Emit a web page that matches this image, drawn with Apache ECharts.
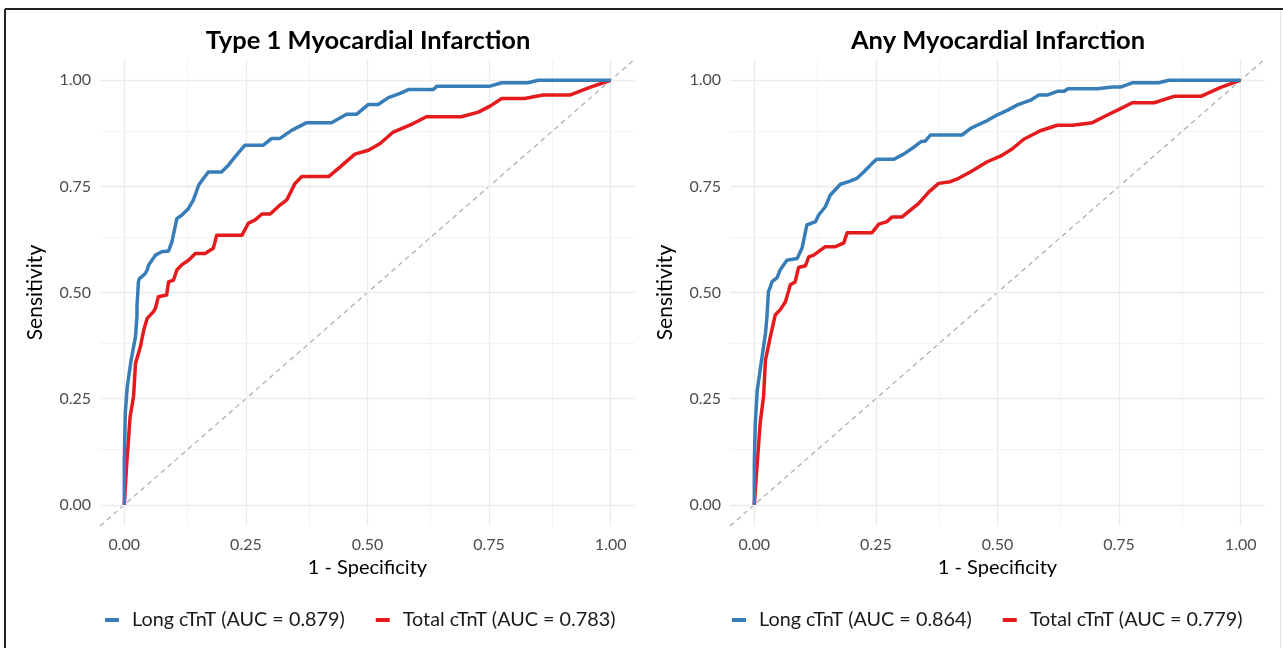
<!DOCTYPE html>
<html>
<head>
<meta charset="utf-8">
<script src="https://cdn.jsdelivr.net/npm/echarts@6/dist/echarts.min.js"></script>
<style>
html,body{margin:0;padding:0;background:#fff;}
#chart{width:1283px;height:648px;}
</style>
</head>
<body>
<div id="chart"></div>
<script>
// ---- Data ----
const panelTitles = ['Type 1 Myocardial Infarction', 'Any Myocardial Infarction'];
const seriesNames = [
  ['Long cTnT (AUC = 0.879)', 'Total cTnT (AUC = 0.783)'],
  ['Long cTnT (AUC = 0.864)', 'Total cTnT (AUC = 0.779)']
];
const xTitle = '1 - Specificity';
const yTitle = 'Sensitivity';
const tickValues = [0, 0.25, 0.5, 0.75, 1];
const minorValues = [0.125, 0.375, 0.625, 0.875];
const diagonal = [[-0.05, -0.05], [1.05, 1.05]];

// Type 1 MI – Long cTnT (x = 1 - specificity, y = sensitivity)
const t1LongX = [0,0,0.002,0.006,0.014,0.023,0.026,0.026,0.029,0.031,0.036,0.043,0.047,0.05,0.053,0.064,0.067,0.077,0.091,0.098,0.108,0.118,0.132,0.142,0.153,0.163,0.173,0.2,0.214,0.228,0.248,0.286,0.303,0.32,0.344,0.375,0.426,0.457,0.478,0.502,0.522,0.543,0.567,0.584,0.635,0.643,0.752,0.776,0.83,0.851,1];
const t1LongY = [0,0.1,0.216,0.278,0.341,0.396,0.443,0.467,0.525,0.533,0.537,0.545,0.553,0.565,0.565,0.588,0.592,0.596,0.598,0.62,0.674,0.682,0.698,0.718,0.753,0.769,0.784,0.784,0.8,0.82,0.847,0.847,0.863,0.863,0.882,0.9,0.9,0.92,0.92,0.943,0.943,0.959,0.969,0.978,0.978,0.986,0.986,0.994,0.994,1,1];
// Type 1 MI – Total cTnT
const t1TotalX = [0,0.005,0.012,0.019,0.023,0.033,0.04,0.047,0.06,0.064,0.07,0.087,0.091,0.101,0.108,0.118,0.132,0.146,0.166,0.183,0.19,0.242,0.255,0.269,0.283,0.3,0.32,0.334,0.351,0.365,0.42,0.444,0.474,0.502,0.526,0.553,0.594,0.621,0.693,0.728,0.752,0.776,0.823,0.861,0.916,0.957,1];
const t1TotalY = [0,0.098,0.208,0.255,0.333,0.372,0.412,0.439,0.455,0.463,0.49,0.494,0.525,0.529,0.553,0.565,0.576,0.592,0.592,0.604,0.635,0.635,0.663,0.671,0.685,0.685,0.706,0.718,0.757,0.773,0.773,0.796,0.826,0.835,0.851,0.878,0.898,0.914,0.914,0.925,0.939,0.957,0.957,0.965,0.965,0.983,1];
// Any MI – Long cTnT
const anyLongX = [0,0,0.002,0.006,0.012,0.019,0.023,0.026,0.029,0.032,0.036,0.047,0.053,0.067,0.088,0.098,0.108,0.126,0.132,0.146,0.156,0.177,0.194,0.211,0.225,0.242,0.252,0.287,0.307,0.324,0.342,0.352,0.362,0.427,0.444,0.458,0.479,0.499,0.52,0.541,0.568,0.585,0.602,0.623,0.637,0.645,0.705,0.736,0.753,0.777,0.832,0.852,1];
const anyLongY = [0,0.098,0.192,0.27,0.318,0.372,0.404,0.443,0.502,0.51,0.525,0.535,0.553,0.576,0.58,0.604,0.659,0.667,0.682,0.702,0.729,0.755,0.761,0.769,0.784,0.804,0.814,0.814,0.826,0.839,0.855,0.857,0.871,0.871,0.886,0.894,0.905,0.918,0.929,0.942,0.953,0.965,0.965,0.974,0.974,0.98,0.98,0.984,0.984,0.994,0.994,1,1];
// Any MI – Total cTnT
const anyTotalX = [0,0.005,0.012,0.019,0.023,0.033,0.043,0.053,0.064,0.074,0.084,0.091,0.105,0.112,0.122,0.146,0.167,0.184,0.191,0.242,0.256,0.273,0.283,0.304,0.321,0.338,0.359,0.379,0.403,0.42,0.444,0.479,0.506,0.53,0.554,0.588,0.623,0.654,0.695,0.726,0.753,0.777,0.822,0.863,0.918,0.959,1];
const anyTotalY = [0,0.082,0.192,0.255,0.341,0.396,0.447,0.459,0.478,0.518,0.525,0.559,0.563,0.584,0.588,0.608,0.608,0.617,0.641,0.641,0.661,0.667,0.678,0.678,0.694,0.71,0.737,0.757,0.761,0.769,0.784,0.808,0.821,0.838,0.861,0.881,0.894,0.894,0.9,0.918,0.933,0.947,0.947,0.962,0.962,0.983,1];

// ---- Styles ----
const FONT = 'Lato';
const BLUE = '#377EB8', RED = '#E41A1C';
const pair = (xs, ys) => xs.map((x, i) => [x, ys[i]]);
const curves = [
  [pair(t1LongX, t1LongY), pair(t1TotalX, t1TotalY)],
  [pair(anyLongX, anyLongY), pair(anyTotalX, anyTotalY)]
];

const grids = [
  {left: 100, top: 59, width: 535, height: 467},
  {left: 730, top: 59, width: 535, height: 467}
];
const titleCenters = [363, 993];
const legendLeft = [105, 732];

const option = {
  backgroundColor: '#fff',
  animation: false,
  title: panelTitles.map((t, i) => ({
    text: t, left: titleCenters[i], top: 23, textAlign: 'center',
    textStyle: {fontFamily: FONT, fontWeight: 'bold', fontSize: 25.5, color: '#000'}
  })),
  legend: seriesNames.map((names, i) => ({
    data: names, left: legendLeft[i], top: 610, padding: 0,
    orient: 'horizontal', icon: 'rect', itemWidth: 14, itemHeight: 4, itemGap: 31,
    textStyle: {fontFamily: FONT, fontSize: 19.8, color: '#1a1a1a', padding: [0, 0, 0, 8]},
    selectedMode: false
  })),
  grid: grids.map(g => Object.assign({containLabel: false}, g)),
  xAxis: grids.map((g, i) => ({
    gridIndex: i, type: 'value', min: -0.05, max: 1.05,
    name: xTitle, nameLocation: 'middle', nameGap: 31,
    nameTextStyle: {fontFamily: FONT, fontSize: 20, color: '#000'},
    axisLine: {show: false}, axisTick: {show: false}, splitLine: {show: false},
    axisLabel: {customValues: tickValues, formatter: v => v.toFixed(2), margin: 11,
      fontFamily: FONT, fontSize: 16, color: '#4D4D4D'}
  })),
  yAxis: grids.map((g, i) => ({
    gridIndex: i, type: 'value', min: -0.05, max: 1.05,
    name: yTitle, nameLocation: 'middle', nameGap: 54, nameRotate: 90,
    nameTextStyle: {fontFamily: FONT, fontSize: 21, color: '#000'},
    axisLine: {show: false}, axisTick: {show: false}, splitLine: {show: false},
    axisLabel: {customValues: tickValues, formatter: v => v.toFixed(2), margin: 9,
      fontFamily: FONT, fontSize: 16, color: '#4D4D4D'}
  })),
  series: [],
  graphic: [
    {type: 'line', shape: {x1: 5, y1: 9, x2: 1283, y2: 9}, style: {stroke: '#222', lineWidth: 2}},
    {type: 'line', shape: {x1: 5, y1: 9, x2: 5, y2: 648}, style: {stroke: '#222', lineWidth: 2}},
    {type: 'line', shape: {x1: 1280.5, y1: 10, x2: 1280.5, y2: 648}, style: {stroke: '#e2e2e2', lineWidth: 1}}
  ]
};

grids.forEach((g, i) => {
  const gridLines = [];
  minorValues.forEach(v => {
    gridLines.push({xAxis: v, lineStyle: {color: '#F0F0F0', width: 0.8, type: 'solid'}});
    gridLines.push({yAxis: v, lineStyle: {color: '#F0F0F0', width: 0.8, type: 'solid'}});
  });
  tickValues.forEach(v => {
    gridLines.push({xAxis: v, lineStyle: {color: '#EBEBEB', width: 1.3, type: 'solid'}});
    gridLines.push({yAxis: v, lineStyle: {color: '#EBEBEB', width: 1.3, type: 'solid'}});
  });
  option.series.push({
    type: 'line', xAxisIndex: i, yAxisIndex: i, data: [], silent: true, z: 0,
    markLine: {silent: true, symbol: 'none', label: {show: false}, animation: false,
      lineStyle: {type: 'solid'}, data: gridLines}
  });
  option.series.push({
    type: 'line', xAxisIndex: i, yAxisIndex: i, data: diagonal, silent: true, z: 1,
    showSymbol: false, lineStyle: {color: '#AAAAAA', width: 1.2, type: [5, 4]}
  });
  [BLUE, RED].forEach((c, k) => {
    option.series.push({
      name: seriesNames[i][k], type: 'line', xAxisIndex: i, yAxisIndex: i,
      data: curves[i][k], showSymbol: false, symbol: 'none', color: c, zlevel: 1,
      lineStyle: {color: c, width: 3.5, join: 'round'}, z: 3 + (1 - k)
    });
  });
});

const chart = echarts.init(document.getElementById('chart'), null, {renderer: 'canvas'});
chart.setOption(option);
</script>
</body>
</html>
